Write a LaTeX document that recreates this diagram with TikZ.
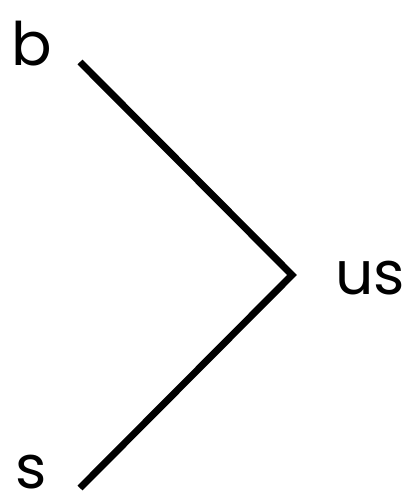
\documentclass[tikz,border=0pt]{standalone}
\usepackage{fontspec}
\setmainfont{Poppins}
\usetikzlibrary{positioning}

\tikzset{
  leaf/.style={inner sep=0pt, anchor=base west, font=\fontsize{60}{62}\selectfont},
  branch/.style={line width=7pt, line join=miter}
}

\begin{document}
\begin{tikzpicture}[x=1pt, y=-1pt]
\useasboundingbox (0,0) rectangle (411,502);

% labels
\node[leaf] (b)  at (11,66)  {b};
\node[leaf] (us) at (335,294) {us};
\node[leaf] (s)  at (15,488) {s};

% ends of the branches
\coordinate (bEnd) at (80,62);
\coordinate (vtx)  at (292,275);
\coordinate (sEnd) at (80,488);

\draw[branch] (bEnd) -- (vtx) -- (sEnd);

\end{tikzpicture}
\end{document}
